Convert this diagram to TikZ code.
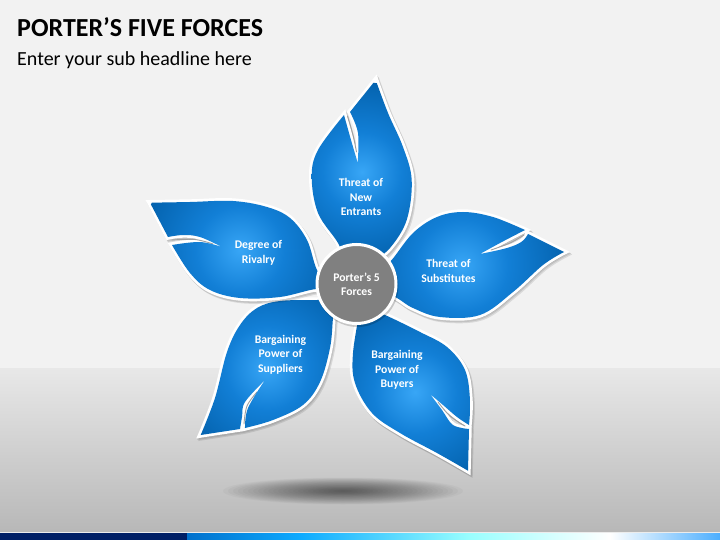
\documentclass[tikz,border=0pt]{standalone}
\usepackage{fontspec}
\setmainfont{Carlito}
\definecolor{topbg}{HTML}{F2F2F2}
\definecolor{navy}{HTML}{001F66}
\definecolor{hub}{HTML}{808080}
\definecolor{pA}{HTML}{38A6F6}
\definecolor{pB}{HTML}{127FD6}
\definecolor{pC}{HTML}{0361AC}
\definecolor{pD}{HTML}{004476}
\pgfdeclareradialshading{petalshade}{\pgfpoint{0bp}{0bp}}{color(0bp)=(pA); color(11bp)=(pB); color(26bp)=(pC); color(50bp)=(pD)}
\newcommand{\petalshape}[4]{%
  \fill[black,opacity=.10,xshift=2pt,yshift=-2.5pt,line width=5.6pt,draw=black,line join=miter] #1;
  \fill[black,opacity=.10,xshift=1pt,yshift=-1.5pt,line width=5.6pt,draw=black,line join=miter] #1;
  \draw[white,line width=5.4pt,line join=miter,miter limit=10] #1;
  \draw[gray!75,line width=.9pt,line cap=round] plot[smooth,tension=.6] coordinates {#4};
  \begin{scope}
    \clip #1;
    \shade[shading=petalshade] (#2) circle (#3);
  \end{scope}
}
\tikzset{
  lbl/.style={text=white,font=\bfseries\fontsize{11.7}{14.5}\selectfont,align=center,inner sep=0pt},
  sm/.style={smooth,tension=.6}
}
\begin{document}
\begin{tikzpicture}[x=1pt,y=-1pt]
\useasboundingbox (0,0) rectangle (720,540);
% background
\fill[topbg] (0,0) rectangle (720,368);
\shade[top color=black!9,bottom color=black!28] (0,368) rectangle (720,532);
\fill[white!85!gray] (0,532) rectangle (720,533);
\fill[navy] (0,533) rectangle (187,540);
\shade[left color=blue!45!cyan!80!black,right color=cyan!65!blue!95] (187,533) rectangle (300,540);
\shade[left color=cyan!65!blue!95,right color=cyan!40!white] (300,533) rectangle (470,540);
\shade[left color=cyan!40!white,right color=white] (470,533) rectangle (610,540);
\shade[left color=white,right color=cyan!55!blue!70] (610,533) rectangle (720,540);
% ground shadow
\foreach \k in {1,...,24}{
  \fill[black,opacity=.028] (343,491) ellipse ({120*(1-(\k-1)/24)} and {13.5*(1-(\k-1)/24)});
}
% titles
\node[anchor=base west,inner sep=0pt,font=\bfseries\fontsize{26}{26}\selectfont] (title) at (17,36.5) {PORTER’S FIVE FORCES};
\node[anchor=base west,inner sep=0pt,font=\fontsize{20}{20}\selectfont] (sub) at (17,66) {Enter your sub headline here};
% petals
\petalshape{plot[sm] coordinates {(375.7,80) (388,113) (403,147) (411.7,180) (406.7,220) (390,248) (372,262)} -- plot[sm] coordinates {(345,262) (338,243) (318,213) (311.7,177) (318,150) (344,115)} -- plot[sm] coordinates {(344,115) (351,140) (357.7,162.7)} -- plot[sm] coordinates {(357.7,162.7) (358,133) (350,112)} -- cycle}{362,172}{90}{(347.5,116) (353,135) (356.5,152)}
\petalshape{plot[sm] coordinates {(380,270) (391.7,260) (413,233) (437,217) (463,212) (493,217) (525,230)} -- plot[sm] coordinates {(525,230) (500,243) (480,254)} -- plot[sm] coordinates {(480,254) (507,248) (521.7,241.7) (528,234)} -- (564,252) -- plot[sm] coordinates {(564,252) (543,265) (513,292) (480,315) (440,317) (413,308) (397,298) (380,290)} -- cycle}{462,265}{105}{(491,250) (510,243) (524,235)}
\petalshape{plot[sm] coordinates {(360,310) (353,353) (355,383) (372,413) (400,433) (437,453) (468,470.7)} -- (469,429) -- plot[sm] coordinates {(469,429) (453,425) (442,410) (430,394)} -- plot[sm] coordinates {(430,394) (443,405) (457,417) (469,425)} -- plot[sm] coordinates {(469,425) (470,400) (465,370) (447,347) (420,332) (385,315) (370,310)} -- cycle}{415,392}{95}{(438,402) (450,416) (465,426)}
\petalshape{plot[sm] coordinates {(335,300) (333,318) (330,348) (320,382) (303,405) (273,420) (245,428)} -- plot[sm] coordinates {(245,428) (248,408) (265,380)} -- plot[sm] coordinates {(265,380) (245,402) (242,417) (240,429)} -- (200.7,435) -- plot[sm] coordinates {(200.7,435) (215,398) (227,352) (240,325) (257,308) (280,301) (317,300) (335,300)} -- cycle}{267,368}{95}{(257,392) (247,406) (244,424)}
\petalshape{(150,202.7) -- plot[sm] coordinates {(150,202.7) (190,202) (233,201) (267,207) (290,218) (307,240) (317,270) (330,285)} -- plot[sm] coordinates {(330,295) (317,289) (280,297) (240,298) (210,290) (190,273) (172,245)} -- plot[sm] coordinates {(172,245) (200,242) (222,247)} -- plot[sm] coordinates {(222,247) (200,237) (183,235) (168,237)} -- cycle}{240,250}{100}{(172,240) (195,239.5) (213,244)}
% hub
\fill[black,opacity=.18] (357.5,286) circle (41);
\node[circle,fill=hub,draw=white,line width=3pt,minimum size=79pt,inner sep=0pt] (hubnode) at (356.5,284) {};
\node[lbl] (t0) at (356.5,284.5) {Porter’s 5\\Forces};
\node[lbl] (t1) at (361,197) {Threat of\\New\\Entrants};
\node[lbl] (t2) at (448.5,271) {Threat of\\Substitutes};
\node[lbl] (t3) at (397,370) {Bargaining\\Power of\\Buyers};
\node[lbl] (t4) at (280.5,354.5) {Bargaining\\Power of\\Suppliers};
\node[lbl] (t5) at (258.5,253) {Degree of\\Rivalry};
\end{tikzpicture}
\end{document}
